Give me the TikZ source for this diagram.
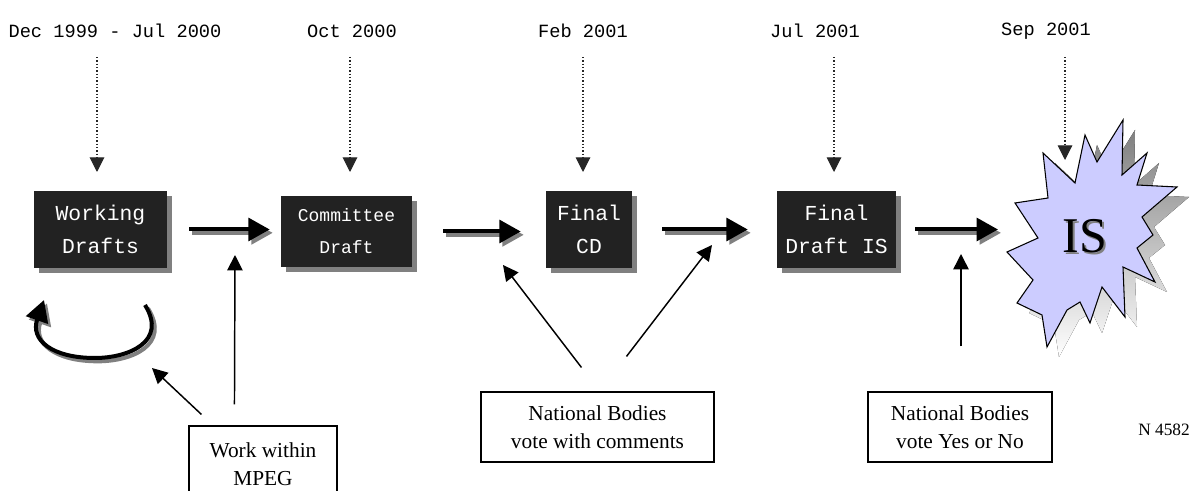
\documentclass[tikz,border=0pt]{standalone}
\usepackage{fontspec}
\setmainfont{Liberation Serif}
\newfontfamily\monofont{Liberation Mono}
\usetikzlibrary{arrows.meta,shadows,calc}

\definecolor{boxdark}{HTML}{222222}
\definecolor{shade}{HTML}{808080}
\definecolor{starfill}{HTML}{CCCCFF}

% outline of the burst around "IS"
\def\burstoutline{(1043,153) -- (1075,183) -- (1085,135) -- (1097,162) -- (1123,120) -- (1122,175)
  -- (1147,153) -- (1137,185) -- (1177,187) -- (1142,217) -- (1153,235) -- (1137,248)
  -- (1155,282) -- (1123,267) -- (1125,317) -- (1102,287) -- (1090,323) -- (1080,302)
  -- (1067,310) -- (1047,347) -- (1042,315) -- (1017,303) -- (1033,280) -- (1007,252)
  -- (1038,238) -- (1015,203) -- (1048,198) -- cycle}

\begin{document}
\begin{tikzpicture}[x=0.75pt,y=-0.75pt,
  stage/.style={fill=boxdark, text=white, align=center, inner sep=0pt,
    font=\monofont\fontsize{16}{25}\selectfont,
    drop shadow={shadow xshift=3.75pt,shadow yshift=-3.75pt,fill=shade,opacity=1}},
  actor/.style={draw, line width=0.8pt, fill=white, align=center, inner sep=0pt,
    font=\fontsize{16}{21}\selectfont},
  datelabel/.style={font=\monofont\fontsize{14}{17}\selectfont, inner sep=0pt},
  bigarrow/.style={line width=3pt, -{Triangle[length=16pt,width=17pt]}},
  bigshadow/.style={bigarrow, draw=shade, transform canvas={xshift=2.25pt,yshift=-2.5pt}},
  thinarrow/.style={line width=1.1pt, -{Triangle[length=11.5pt,width=11.5pt]}},
  dotarrow/.style={line width=0.8pt, draw=black!85, dash pattern=on 1pt off 1.5pt,
    -{Triangle[length=11pt,width=11pt]}}
]
\useasboundingbox (0,0) rectangle (1193,491);
\clip (0,0) rectangle (1193,491);

% dates
\node[datelabel] (d1) at (115,31) {Dec 1999 - Jul 2000};
\node[datelabel] (d2) at (352,31) {Oct 2000};
\node[datelabel] (d3) at (583,31) {Feb 2001};
\node[datelabel] (d4) at (815,31) {Jul 2001};
\node[datelabel] (d5) at (1046,31) {Sep 2001};

% stages
\node[stage, minimum width=99.75pt, minimum height=57.75pt] (WD) at (100.5,229.5) {Working\\Drafts};
\node[stage, minimum width=98.25pt, minimum height=53.25pt,
      font=\monofont\fontsize{13.5}{24}\selectfont] (CDr) at (346.5,231.5) {Committee\\Draft};
\node[stage, minimum width=64.5pt, minimum height=57.75pt] (FCD) at (589,229.5) {Final\\CD};
\node[stage, minimum width=89.25pt, minimum height=57.75pt] (FDIS) at (836.5,229.5) {Final\\Draft IS};

% the burst
\fill[shade, shift={(12,10)}] \burstoutline;
\filldraw[fill=starfill, draw=black, line width=0.8pt] \burstoutline;
\node[text=shade, font=\fontsize{37.5}{40}\selectfont] (ISshadow) at (1087,238) {IS};
\node[font=\fontsize{37.5}{40}\selectfont] (IS) at (1085,236) {IS};
\coordinate (ISin) at (998,231);

% date markers
\coordinate (t1a) at (97,57);   \coordinate (t1b) at (97,172);
\coordinate (t2a) at (350,57);  \coordinate (t2b) at (350,172);
\coordinate (t3a) at (583,57);  \coordinate (t3b) at (583,172);
\coordinate (t4a) at (834,57);  \coordinate (t4b) at (834,172);
\coordinate (t5a) at (1065,57); \coordinate (t5b) at (1065,160);
\foreach \k in {1,...,5} \draw[dotarrow] (t\k a) -- (t\k b);

% main flow
\foreach \a/\b/\s/\e in {WD/CDr/16.5pt/8.25pt, CDr/FCD/23.25pt/18.75pt, FCD/FDIS/22.5pt/21.75pt}{
  \draw[bigshadow, shorten <=\s, shorten >=\e] (\a.east) -- (\a.east -| \b.west);
  \draw[bigarrow, shorten <=\s, shorten >=\e] (\a.east) -- (\a.east -| \b.west);
}
\draw[bigshadow, shorten <=14.25pt] (FDIS.east) -- (FDIS.east -| ISin);
\draw[bigarrow, shorten <=14.25pt] (FDIS.east) -- (FDIS.east -| ISin);

% iteration loop under the working drafts
\coordinate (loopA) at (145,305);
\coordinate (loopB) at (44,300);
\draw[bigshadow] (loopA) .. controls (168,342) and (128,358) .. (95,358)
   .. controls (52,358) and (30,340) .. (loopB);
\draw[bigarrow] (loopA) .. controls (168,342) and (128,358) .. (95,358)
   .. controls (52,358) and (30,340) .. (loopB);

% participants
\node[actor, minimum width=111pt, minimum height=57pt] (MPEG) at (263,464) {Work within\\MPEG};
\node[actor, minimum width=174.75pt, minimum height=52.5pt] (NBc) at (597.5,427) {National Bodies\\vote with comments};
\node[actor, minimum width=138pt, minimum height=52.5pt] (NBy) at (960,427) {National Bodies\\vote Yes or No};
\node[font=\fontsize{13}{15}\selectfont, inner sep=0pt] (docno) at (1164,430) {N 4582};

\coordinate (loopHit) at (152,368);
\coordinate (arrowOneHit) at (235,255);
\coordinate (cdHit) at (503,265);
\coordinate (arrowThreeHit) at (712,245);
\coordinate (arrowFourHit) at (961,254);

\draw[thinarrow] ($(MPEG.north west)+(13,-11)$) -- (loopHit);
\draw[thinarrow] ($(MPEG.north west)+(46,-21)$) -- (arrowOneHit);
\draw[thinarrow] ($(NBc.north west)+(101,-24)$) -- (cdHit);
\draw[thinarrow] ($(NBc.north west)+(146,-35)$) -- (arrowThreeHit);
\draw[thinarrow] ($(NBy.north)+(1,-45)$) -- (arrowFourHit);
\end{tikzpicture}
\end{document}
